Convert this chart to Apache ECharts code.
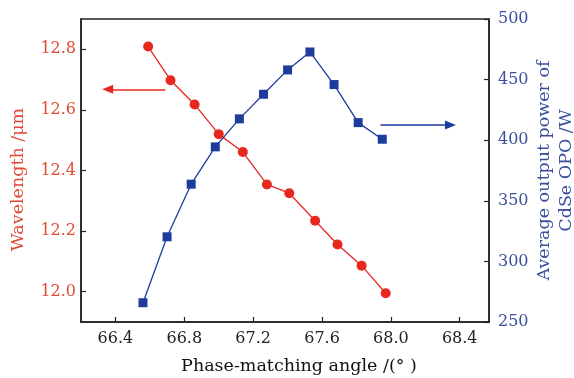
<!DOCTYPE html>
<html><head><meta charset="utf-8">
<script src="https://cdn.jsdelivr.net/npm/echarts@6/dist/echarts.min.js"></script>
<style>html,body{margin:0;padding:0;background:#fff}#c{width:574px;height:378px}</style>
</head><body><div id="c"></div>
<script>
// Data
const angleWl = [66.59, 66.72, 66.86, 67.00, 67.14, 67.28, 67.41, 67.56, 67.69, 67.83, 67.97];
const wavelength = [12.809, 12.698, 12.618, 12.52, 12.461, 12.354, 12.325, 12.234, 12.156, 12.086, 11.995];
const anglePw = [66.56, 66.70, 66.84, 66.98, 67.12, 67.26, 67.40, 67.53, 67.67, 67.81, 67.95];
const power = [265.9, 320.3, 363.7, 394.5, 417.6, 437.9, 458.0, 472.8, 445.9, 414.5, 400.8];
const xTicks = [66.4, 66.8, 67.2, 67.6, 68.0, 68.4];
const yLeftTicks = [12.0, 12.2, 12.4, 12.6, 12.8];
const yRightTicks = [250, 300, 350, 400, 450, 500];
const redArrow = [[66.69, 12.668], [66.355, 12.668]];
const blueArrow = [[67.94, 412.6], [68.346, 412.6]];

const RED = '#e8281f', BLUE = '#1e3c9e';
const RED_T = '#e24a35', BLUE_T = '#3b4f9e';
const FONT = 'DejaVu Serif';

const chart = echarts.init(document.getElementById('c'));
chart.setOption({
  animation: false,
  grid: {left: 81, right: 85, top: 19, bottom: 56, show: true, borderColor: '#222', borderWidth: 1.5,
    backgroundColor: 'transparent', outerBoundsMode: 'none', containLabel: false},
  xAxis: {
    type: 'value', min: 66.2, max: 68.57,
    name: 'Phase-matching angle /(° )', nameLocation: 'middle', nameGap: 35,
    nameTextStyle: {fontFamily: FONT, fontSize: 17.5, color: '#111', padding: [0, 0, 0, 28]},
    axisLine: {show: true, onZero: false, lineStyle: {color: '#222', width: 1.5}},
    axisTick: {show: true, inside: true, length: 5, customValues: xTicks, lineStyle: {color: '#222', width: 1.2}},
    axisLabel: {customValues: xTicks, fontFamily: FONT, fontSize: 16, color: '#222', margin: 9, formatter: v => v.toFixed(1)},
    splitLine: {show: false}
  },
  yAxis: [{
    type: 'value', min: 11.9, max: 12.9, position: 'left',
    name: 'Wavelength /μm', nameLocation: 'middle', nameGap: 54, nameRotate: 90,
    nameTextStyle: {fontFamily: FONT, fontSize: 17.5, color: RED_T, padding: [0, 0, 0, -18]},
    axisLine: {show: true, onZero: false, lineStyle: {color: '#222', width: 1.5}},
    axisTick: {show: true, inside: true, length: 5, customValues: yLeftTicks, lineStyle: {color: '#222', width: 1.2}},
    axisLabel: {customValues: yLeftTicks, fontFamily: FONT, fontSize: 16, color: RED_T, margin: 5, formatter: v => v.toFixed(1)},
    splitLine: {show: false}
  }, {
    type: 'value', min: 250, max: 500, interval: 50, position: 'right',
    name: 'Average output power of\nCdSe OPO /W', nameLocation: 'middle', nameGap: 44, nameRotate: 90,
    nameMoveOverlap: false,
    nameTextStyle: {fontFamily: FONT, fontSize: 17.5, color: BLUE_T, lineHeight: 22},
    axisLine: {show: true, onZero: false, lineStyle: {color: '#222', width: 1.5}},
    axisTick: {show: true, inside: true, length: 5, lineStyle: {color: '#222', width: 1.2}},
    axisLabel: {fontFamily: FONT, fontSize: 16, color: BLUE_T, margin: 9},
    splitLine: {show: false}
  }],
  series: [{
    type: 'line', yAxisIndex: 0,
    data: angleWl.map((a, i) => [a, wavelength[i]]),
    symbol: 'circle', symbolSize: 10,
    lineStyle: {color: RED, width: 1.3}, itemStyle: {color: RED},
    markLine: {silent: true, symbol: ['none', 'triangle'], symbolSize: [9, 11],
      label: {show: false}, lineStyle: {color: RED, width: 1.5, type: 'solid'},
      data: [[{coord: redArrow[0]}, {coord: redArrow[1]}]]}
  }, {
    type: 'line', yAxisIndex: 1,
    data: anglePw.map((a, i) => [a, power[i]]),
    symbol: 'rect', symbolSize: 9,
    lineStyle: {color: BLUE, width: 1.3}, itemStyle: {color: BLUE},
    markLine: {silent: true, symbol: ['none', 'triangle'], symbolSize: [9, 11],
      label: {show: false}, lineStyle: {color: BLUE, width: 1.5, type: 'solid'},
      data: [[{coord: blueArrow[0]}, {coord: blueArrow[1]}]]}
  }]
});
</script></body></html>
